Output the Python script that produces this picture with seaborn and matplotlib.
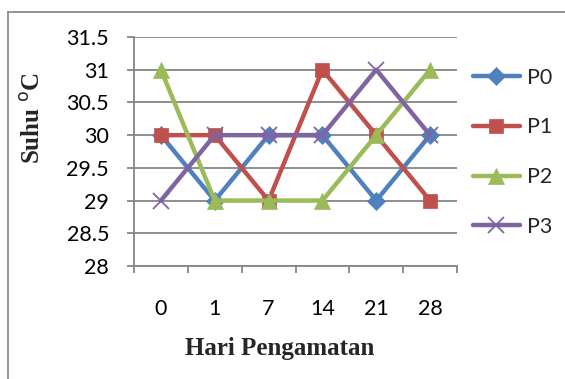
import matplotlib
matplotlib.use("Agg")
import matplotlib.pyplot as plt
from matplotlib.lines import Line2D
import seaborn as sns
import pandas as pd

# Observation days and temperature readings per treatment
hari = [0, 1, 7, 14, 21, 28]
p0 = [30, 29, 30, 30, 29, 30]
p1 = [30, 30, 29, 31, 30, 29]
p2 = [31, 29, 29, 29, 30, 31]
p3 = [29, 30, 30, 30, 31, 30]
perlakuan = ["P0", "P1", "P2", "P3"]
y_ticks = [28, 28.5, 29, 29.5, 30, 30.5, 31, 31.5]
y_ticklabels = ["28", "28.5", "29", "29.5", "30", "30.5", "31", "31.5"]

warna = ["#4F81BD", "#C0504D", "#9BBB59", "#8064A2"]
penanda = ["D", "s", "^", "x"]
ukuran = [9, 10, 11, 11]

rows = []
for nama, vals in zip(perlakuan, [p0, p1, p2, p3]):
    for h, v in zip(hari, vals):
        rows.append({"hari": h, "suhu": v, "perlakuan": nama})
df = pd.DataFrame(rows)

sns.set_theme(style="white")
plt.rcParams["font.family"] = ["Lato", "DejaVu Sans"]

fig = plt.figure(figsize=(5.65, 3.79), dpi=100)
ax = fig.add_axes([134 / 565, 1 - 266 / 379, 323 / 565, 229 / 379])

for nama, c, m, ms in zip(perlakuan, warna, penanda, ukuran):
    sub = df[df["perlakuan"] == nama]
    sns.pointplot(data=sub, x="hari", y="suhu", order=hari, color=c,
                  marker=m, markersize=ms, linewidth=3.2, errorbar=None,
                  markeredgewidth=1.3 if m == "x" else 0.5, ax=ax, zorder=3)

ax.set_xlim(-0.5, 5.5)
ax.set_ylim(28, 31.5)
ax.set_yticks(y_ticks)
ax.set_yticklabels(y_ticklabels)
ax.set_xticks(range(len(hari)))
ax.set_xticklabels([str(h) for h in hari])
ax.set_xticks([i - 0.5 for i in range(len(hari) + 1)], minor=True)

ax.grid(axis="y", color="#868686", linewidth=1.3, zorder=0)
ax.set_axisbelow(True)
for s in ["top", "right"]:
    ax.spines[s].set_visible(False)
for s in ["left", "bottom"]:
    ax.spines[s].set_color("#868686")
    ax.spines[s].set_linewidth(1.3)

ax.tick_params(axis="y", which="major", left=True, length=5, width=1.3,
               color="#868686", pad=13, labelsize=15.5, labelcolor="black")
ax.tick_params(axis="x", which="major", bottom=False, pad=18,
               labelsize=15.5, labelcolor="black")
ax.tick_params(axis="x", which="minor", bottom=True, length=5, width=1.3,
               color="#868686")
ax.set_xlabel("")
ax.set_ylabel("")

# Legend on the right
handles = [Line2D([0], [0], color=c, marker=m, markersize=ms, linewidth=3.2,
                  markeredgewidth=1.3 if m == "x" else 0.5, markeredgecolor=c)
           for c, m, ms in zip(warna, penanda, ukuran)]
fig.legend(handles, perlakuan, loc="upper left",
           bbox_to_anchor=(462 / 565, 1 - 57 / 379), frameon=False,
           fontsize=15.5, handlelength=2.2, handletextpad=0.3,
           labelspacing=1.38, borderpad=0)

# Axis titles
fig.text(280 / 565, 1 - 348 / 379, "Hari Pengamatan", ha="center", va="center",
         fontsize=18, fontweight="bold", family=["Liberation Serif"])
fig.text(33 / 565, 1 - 118 / 379, "Suhu $^{\\mathrm{o}}$C", ha="center",
         va="center", rotation=90, fontsize=18, fontweight="bold",
         family=["Liberation Serif"])

# Frame lines at top and left
fig.add_artist(Line2D([8 / 565, 1], [1 - 12 / 379, 1 - 12 / 379],
                      transform=fig.transFigure, color="#8C8C8C", linewidth=1.3))
fig.add_artist(Line2D([8 / 565, 8 / 565], [0, 1 - 12 / 379],
                      transform=fig.transFigure, color="#8C8C8C", linewidth=1.3))

fig.savefig("out.png", dpi=100)
